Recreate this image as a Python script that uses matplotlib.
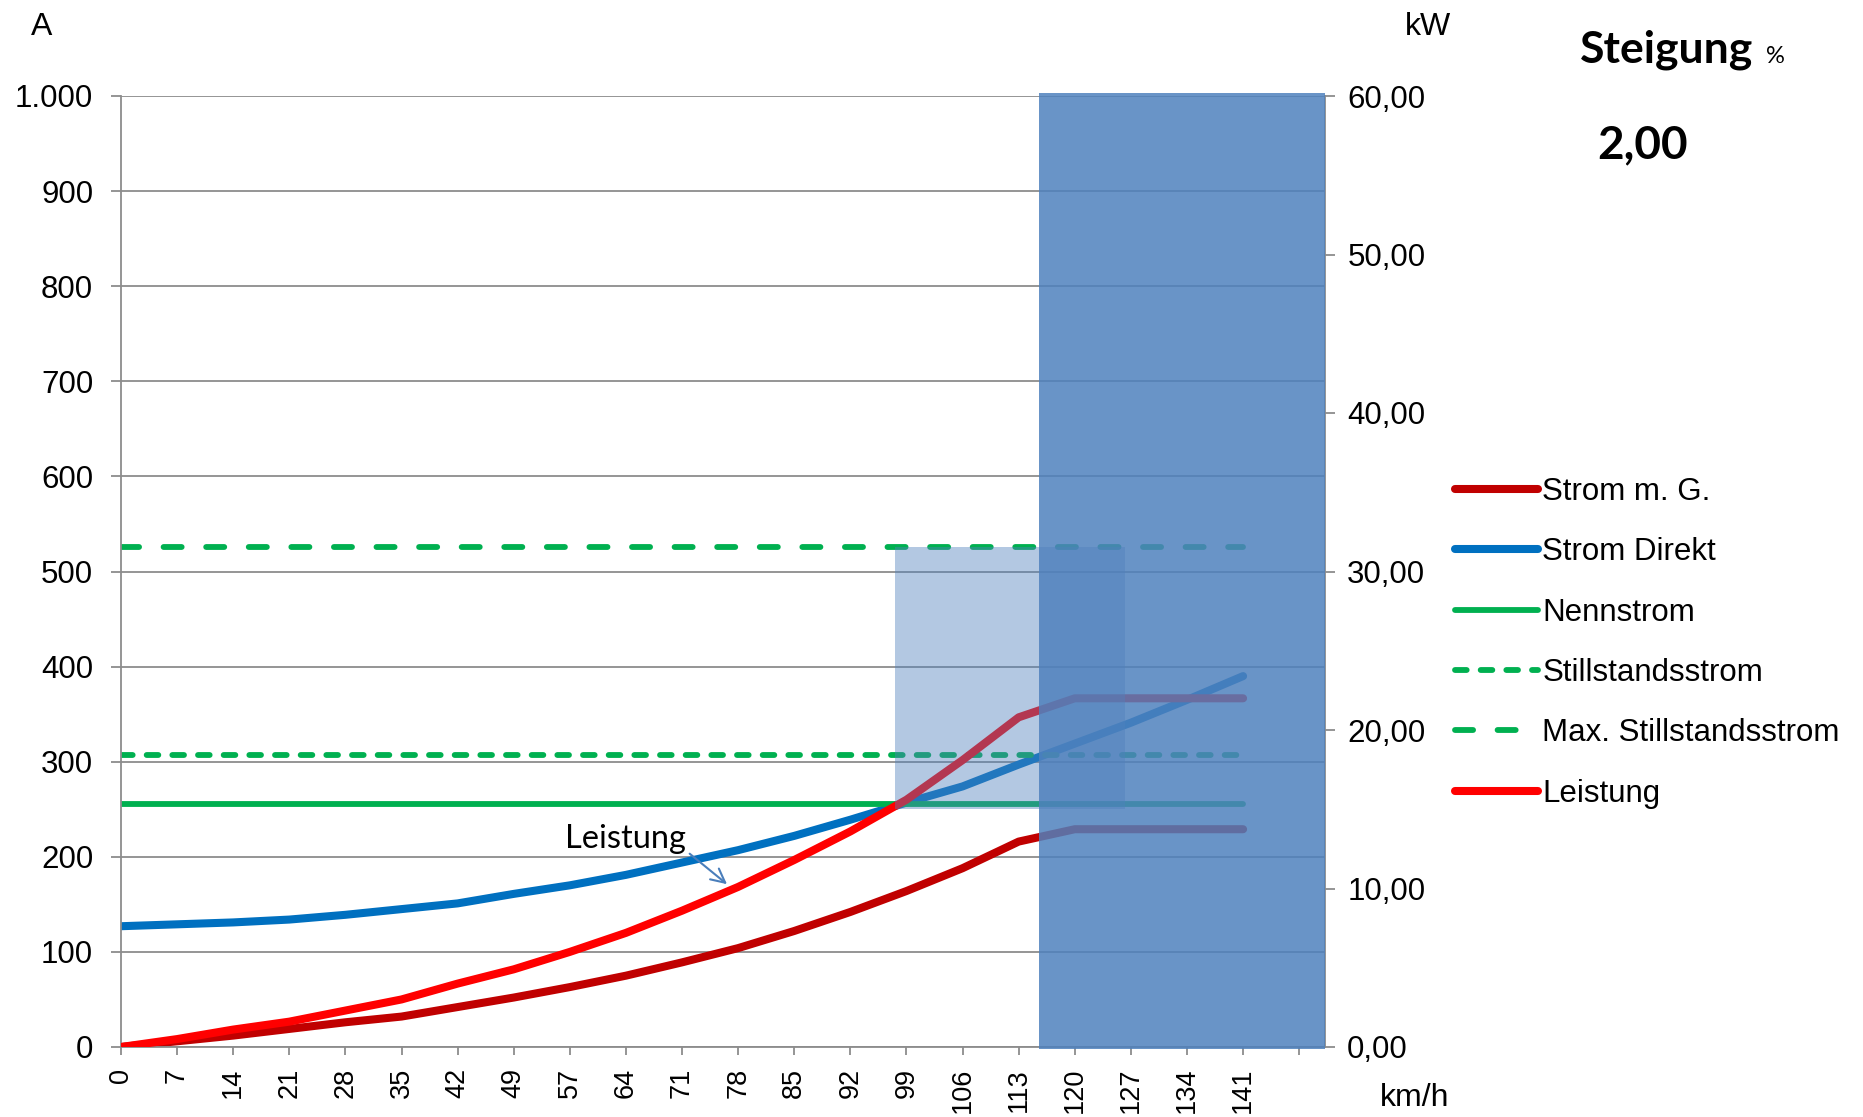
import matplotlib
matplotlib.use("Agg")
import matplotlib.pyplot as plt
from matplotlib.patches import Rectangle
from matplotlib.ticker import FuncFormatter, MultipleLocator

# Geschwindigkeit (km/h) als Kategorien
speed = [0, 7, 14, 21, 28, 35, 42, 49, 57, 64, 71, 78, 85, 92, 99, 106, 113, 120, 127, 134, 141]

# Ströme in A
strom_mg = [0, 6, 12, 19, 26, 32, 42, 52, 63, 75, 89, 104, 122, 142, 164, 188, 216, 229, 229, 229, 229]
strom_direkt = [127, 129, 131, 134, 139, 145, 151, 161, 170, 181, 194, 207, 222, 239, 257, 274, 297, 319, 341, 365, 390]
nennstrom = 256
stillstandsstrom = 307
max_stillstandsstrom = 526

# Leistung in kW (rechte Achse)
leistung = [0, 0.5, 1.1, 1.6, 2.3, 3.0, 4.0, 4.9, 6.0, 7.2, 8.6, 10.1, 11.8, 13.6, 15.6, 18.1, 20.8, 22.0, 22.0, 22.0, 22.0]

steigung = 2.00

# markierte Bereiche (Kategorie-Index, A)
bereich_teil = (13.8, 17.9, 250, max_stillstandsstrom)
bereich_voll_start = 16.36
x_end = 21.46

c_mg = "#c00000"
c_direkt = "#0070c0"
c_gruen = "#00b050"
c_leistung = "#ff0000"
c_grau = "#8c8c8c"

sans = ["Liberation Sans", "DejaVu Sans"]
plt.rcParams["font.family"] = sans

fig = plt.figure(figsize=(18.63, 11.17), dpi=100)
ax = fig.add_axes([121 / 1863, 1 - 1047 / 1117, (1325 - 121) / 1863, (1047 - 96) / 1117])
ax2 = ax.twinx()

idx = list(range(len(speed)))
n = len(speed)

l_mg, = ax.plot(idx, strom_mg, color=c_mg, lw=5.8, solid_capstyle="round", solid_joinstyle="round", label="Strom m. G.")
l_dir, = ax.plot(idx, strom_direkt, color=c_direkt, lw=5.8, solid_capstyle="round", solid_joinstyle="round", label="Strom Direkt")
l_nenn, = ax.plot(idx, [nennstrom] * n, color=c_gruen, lw=4.2, solid_capstyle="round", label="Nennstrom")
l_still, = ax.plot(idx, [stillstandsstrom] * n, color=c_gruen, lw=4.2, dashes=(2.0, 2.4),
                   dash_capstyle="round", label="Stillstandsstrom")
l_max, = ax.plot(idx, [max_stillstandsstrom] * n, color=c_gruen, lw=4.2, dashes=(3.1, 4.2),
                 dash_capstyle="round", label="Max. Stillstandsstrom")
l_leist, = ax2.plot(idx, leistung, color=c_leistung, lw=5.8, solid_capstyle="round", solid_joinstyle="round",
                    label="Leistung")

ax.set_xlim(0, x_end)
ax.set_ylim(0, 1000)
ax2.set_ylim(0, 60)

ax.yaxis.set_major_locator(MultipleLocator(100))
ax.yaxis.set_major_formatter(FuncFormatter(lambda v, p: f"{int(v):,}".replace(",", ".")))
ax2.yaxis.set_major_locator(MultipleLocator(10))
ax2.yaxis.set_major_formatter(FuncFormatter(lambda v, p: f"{v:.2f}".replace(".", ",")))

ax.set_xticks(list(range(n + 1)))
ax.set_xticklabels([str(s) for s in speed] + [""], rotation=90, va="top", ha="center")

ax.yaxis.grid(True, color=c_grau, lw=1.3)
ax.set_axisbelow(True)
for sp in ["top", "right"]:
    ax.spines[sp].set_visible(False)
for sp in ["top", "left", "bottom"]:
    ax2.spines[sp].set_visible(False)
for sp in ["left", "bottom"]:
    ax.spines[sp].set_color(c_grau)
    ax.spines[sp].set_linewidth(1.3)
ax2.spines["right"].set_color(c_grau)
ax2.spines["right"].set_linewidth(1.3)

ax.tick_params(axis="y", length=7, width=1.3, color=c_grau, labelsize=22.5, pad=13)
ax.tick_params(axis="x", length=6, width=1.3, color=c_grau, labelsize=19.5, pad=9)
ax2.tick_params(axis="y", length=7, width=1.3, color=c_grau, labelsize=22.5, pad=9)

# halbtransparente Bereiche über den Kurven
x0, x1, y0, y1 = bereich_teil
ax2.add_patch(Rectangle((x0, y0), x1 - x0, y1 - y0, transform=ax.transData,
                        facecolor="#4f81bd", edgecolor="none", alpha=0.43, zorder=5))
ax2.add_patch(Rectangle((bereich_voll_start, -2), x_end - bereich_voll_start, 1005, transform=ax.transData,
                        facecolor="#4f81bd", edgecolor="none", alpha=0.85, zorder=6, clip_on=False))

# Beschriftung der Leistungskurve
tip = (10.84, 10.16)
ax2.annotate("", xy=tip, xytext=(-30, 24.5), textcoords="offset points",
             arrowprops=dict(arrowstyle="->", color="#4a7ebb", lw=1.5, mutation_scale=25), zorder=4)
ax2.annotate("Leistung", xy=tip, xytext=(-31, 27.5), textcoords="offset points",
             ha="right", va="baseline", fontsize=23.5, family=["Lato", "DejaVu Sans"], zorder=4)

fig.text(42 / 1863, 1 - 35 / 1117, "A", ha="center", va="baseline", fontsize=23)
fig.text(1428 / 1863, 1 - 35 / 1117, "kW", ha="center", va="baseline", fontsize=23)
fig.text(1415 / 1863, 1 - 1106 / 1117, "km/h", ha="center", va="baseline", fontsize=23)

fig.text(1580 / 1863, 1 - 63 / 1117, "Steigung", ha="left", va="baseline", fontsize=32,
         fontweight="bold", family=["Lato", "DejaVu Sans"])
fig.text(1766 / 1863, 1 - 63 / 1117, "%", ha="left", va="baseline", fontsize=17,
         family=["Lato", "DejaVu Sans"])
fig.text(1597 / 1863, 1 - 158 / 1117, f"{steigung:.2f}".replace(".", ","), ha="left", va="baseline",
         fontsize=33, fontweight="bold", family=["Lato", "DejaVu Sans"])

handles = [l_mg, l_dir, l_nenn, l_still, l_max, l_leist]
fig.legend(handles, [h.get_label() for h in handles], loc="upper left",
           bbox_to_anchor=(1455 / 1863, 1 - 477 / 1117), frameon=False, fontsize=22.5,
           handlelength=2.65, handletextpad=0.15, labelspacing=0.97, borderpad=0, borderaxespad=0)

fig.savefig("out.png", dpi=100)
